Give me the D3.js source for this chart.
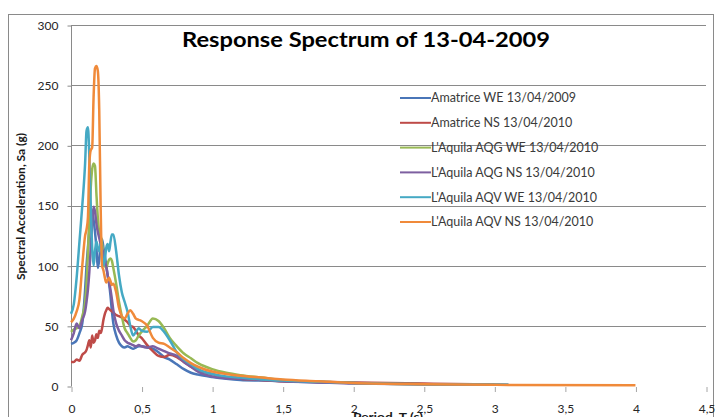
<!DOCTYPE html>
<html lang="en">
<head>
    <meta charset="UTF-8">
    <title>Response Spectrum of 13-04-2009</title>
    <style>
        body { margin: 0; background: #fff; }
        svg { display: block; }
        .tick-label { font: 12px Lato, "Open Sans", sans-serif; fill: #262626; }
        .grid line { stroke: #8a8a8a; stroke-width: 1px; }
        .series { fill: none; stroke-width: 2.5px; stroke-linejoin: round; }
        .legend text { font: 12.5px Lato, "Open Sans", sans-serif; fill: #3a3a3a; }
    </style>
</head>
<body>
    <svg width="719" height="417"></svg>
    <script src="https://d3js.org/d3.v7.min.js"></script>
    <script>
        // Period values (s) shared by all series
        const periods = [0, 0.02, 0.04, 0.06, 0.08, 0.1, 0.11, 0.12, 0.13, 0.14, 0.15, 0.16, 0.17, 0.18, 0.19, 0.2,
            0.21, 0.22, 0.23, 0.24, 0.25, 0.26, 0.27, 0.28, 0.29, 0.3, 0.32, 0.34, 0.36, 0.38, 0.4, 0.42, 0.44, 0.46,
            0.48, 0.5, 0.54, 0.58, 0.62, 0.66, 0.7, 0.75, 0.8, 0.85, 0.9, 1.0, 1.1, 1.2, 1.35, 1.5, 1.75, 2.0, 2.5,
            3.0, 3.1, 4.0];

        // Spectral acceleration per series (g)
        const amatriceWE = [35, 36, 38, 44, 52, 80, 100, 115, 130, 142, 145, 138, 128, 115, 98, 105,
            118, 122, 115, 108, 100, 92, 85, 75, 62, 52, 42, 36, 33, 32, 33, 32, 31, 32,
            33, 33, 32, 31, 28, 24, 22, 18, 14, 11, 9.5, 7.5, 6, 5, 4.5, 4, 3, 2.5, 1.5,
            1.2, 1.1, null];
        const amatriceNS = [20, 20, 22, 21, 26, 28, 30, 34, 38, 32, 42, 36, 38, 43, 40, 46,
            44, 48, 55, 60, 63, 65, 64, 63, 62, 61, 59, 58, 57, 55, 53, 50, 49, 46,
            42, 40, 34, 29, 25, 24, 26, 24, 20, 16, 13, 10, 7, 6, 5, 4, 3.5, 3, 2,
            1.2, null, null];
        const aqgWE = [45, 47, 48, 50, 58, 70, 85, 110, 140, 165, 180, 185, 183, 160, 140, 128,
            125, 118, 110, 100, 98, 102, 105, 106, 104, 98, 85, 70, 58, 48, 44, 40, 37, 38,
            42, 45, 50, 56, 54, 48, 40, 33, 27, 23, 19, 14, 11, 9, 7, 5, 3.5, 2.5, 1.5,
            1, null, null];
        const aqgNS = [38, 44, 52, 48, 55, 62, 70, 80, 95, 115, 135, 149, 145, 135, 128, 123,
            118, 114, 110, 104, 99, 92, 86, 80, 72, 63, 52, 46, 42, 38, 36, 35, 34, 33,
            34, 33, 32, 33, 31, 29, 27, 25, 20, 16, 12, 8, 6.5, 6, 5, 4, 3, 2, 1.5,
            1, null, null];
        const aqvWE = [60, 68, 90, 120, 150, 185, 212, 215, 190, 150, 115, 100, 112, 120, 115, 112,
            118, 110, 100, 105, 115, 118, 112, 120, 126, 126, 112, 92, 78, 70, 62, 50, 42, 45,
            48, 46, 45, 49, 49, 45, 38, 28, 22, 18, 14, 10, 8, 7, 5.5, 4.5, 3.5, 2.5, 1.5,
            1.2, 1.1, null];
        const aqvNS = [53, 56, 62, 72, 100, 125, 130, 140, 185, 196, 198, 240, 264, 266, 262, 230,
            150, 100, 96, 90, 86, 88, 90, 87, 84, 85, 78, 65, 58, 56, 60, 63, 60, 56,
            55, 54, 50, 40, 36, 35, 32, 28, 23, 19, 16, 12, 10, 8.5, 7, 5.5, 4, 2.5, 1.5,
            1, 0.9, 0.7];

        const seriesNames = ["Amatrice WE 13/04/2009", "Amatrice NS 13/04/2010", "L'Aquila AQG WE 13/04/2010",
            "L'Aquila AQG NS 13/04/2010", "L'Aquila AQV WE 13/04/2010", "L'Aquila AQV NS 13/04/2010"];
        const seriesValues = [amatriceWE, amatriceNS, aqgWE, aqgNS, aqvWE, aqvNS];
        const colors = ["#4a76b8", "#be4b48", "#98b954", "#7d5fa0", "#45a9c4", "#f08a3a"];

        const yTicks = [0, 50, 100, 150, 200, 250, 300];
        const xTicks = [0, 0.5, 1, 1.5, 2, 2.5, 3, 3.5, 4, 4.5];

        const svg = d3.select("svg");

        // outer chart border
        svg.append("rect")
            .attr("x", 8.5).attr("y", 14.5)
            .attr("width", 705).attr("height", 420)
            .attr("fill", "none").attr("stroke", "#8a8a8a");

        const x = d3.scaleLinear().domain([0, 4.5]).range([71, 706]);
        const y = d3.scaleLinear().domain([0, 300]).range([386, 25]);

        // horizontal gridlines
        svg.append("g").attr("class", "grid")
          .selectAll("line")
          .data(yTicks.filter(d => d > 0))
          .join("line")
            .attr("x1", x(0)).attr("x2", x(4.5))
            .attr("y1", d => Math.round(y(d)) + 0.5)
            .attr("y2", d => Math.round(y(d)) + 0.5);

        // y axis
        const yAxis = svg.append("g")
            .attr("transform", "translate(" + (x(0) + 0.5) + ",0.5)")
            .call(d3.axisLeft(y).tickValues(yTicks).tickSize(4).tickPadding(9));
        yAxis.select(".domain").attr("stroke", "#8a8a8a").attr("d", "M0," + y(300) + "V" + y(0));
        yAxis.selectAll(".tick line").attr("stroke", "#8a8a8a");
        yAxis.selectAll(".tick text").attr("class", "tick-label").attr("font-family", null).attr("font-size", null);

        // x axis: tick marks only, no baseline
        const xAxis = svg.append("g")
            .attr("transform", "translate(0.5," + (y(0) + 1) + ")")
            .call(d3.axisBottom(x).tickValues(xTicks).tickSize(5).tickPadding(12)
                .tickFormat(d => String(d).replace(".", ",")));
        xAxis.select(".domain").remove();
        xAxis.selectAll(".tick line").attr("stroke", "#a6a6a6");
        xAxis.selectAll(".tick text").attr("class", "tick-label").attr("font-family", null).attr("font-size", null);

        // series lines
        const line = d3.line()
            .defined(d => d[1] != null)
            .x(d => x(d[0]))
            .y(d => y(d[1]))
            .curve(d3.curveMonotoneX);

        svg.append("g")
          .selectAll("path")
          .data(seriesValues)
          .join("path")
            .attr("class", "series")
            .attr("stroke", (d, i) => colors[i])
            .attr("d", vals => line(periods.map((p, j) => [p, vals[j]])));

        // title
        svg.append("text")
            .attr("x", 182).attr("y", 47)
            .attr("textLength", 368)
            .attr("lengthAdjust", "spacingAndGlyphs")
            .style("font", "bold 20px Lato, 'Open Sans', sans-serif")
            .attr("fill", "#000")
            .text("Response Spectrum of 13-04-2009");

        // axis titles
        svg.append("text")
            .attr("transform", "translate(25,280) rotate(-90)")
            .attr("textLength", 147)
            .attr("lengthAdjust", "spacingAndGlyphs")
            .style("font", "bold 11.5px Lato, 'Open Sans', sans-serif")
            .attr("fill", "#1a1a1a")
            .text("Spectral Acceleration, Sa (g)");

        // sits at the bottom edge as in the reference, partly cut off
        svg.append("text")
            .attr("x", 353).attr("y", 421)
            .attr("textLength", 70)
            .attr("lengthAdjust", "spacingAndGlyphs")
            .style("font", "bold 12px Lato, 'Open Sans', sans-serif")
            .attr("fill", "#1a1a1a")
            .text("Period, T (s)");

        // legend
        const legend = svg.append("g").attr("class", "legend")
          .selectAll("g")
          .data(seriesNames)
          .join("g")
            .attr("transform", (d, i) => "translate(400," + (98 + i * 24.8) + ")");

        legend.append("line")
            .attr("x1", 0).attr("x2", 31)
            .attr("stroke", (d, i) => colors[i])
            .attr("stroke-width", 2);

        legend.append("text")
            .attr("x", 31).attr("dy", "0.35em")
            .text(d => d);
    </script>
</body>
</html>
